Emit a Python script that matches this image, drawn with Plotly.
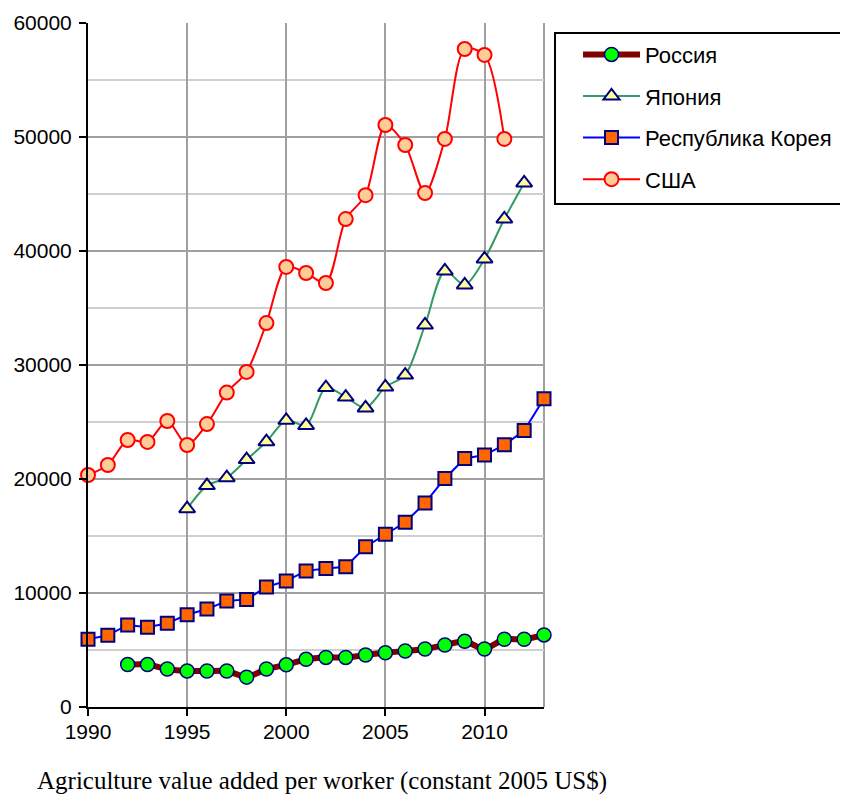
import plotly.graph_objects as go

years = list(range(1990, 2014))

russia = [None, None, 3720, 3720, 3330, 3160, 3160, 3160, 2620, 3330, 3700,
          4180, 4350, 4350, 4560, 4760, 4910, 5090, 5440, 5760, 5090, 5940, 5940, 6320]
japan = [None, None, None, None, None, 17400, 19420, 20120, 21700, 23270, 25150,
         24700, 28020, 27190, 26230, 28070, 29120, 33510, 38250, 37020, 39300, 42810, 45970, None]
korea = [5940, 6290, 7200, 7000, 7350, 8090, 8590, 9290, 9440, 10530, 11060,
         11940, 12150, 12300, 14060, 15160, 16200, 17900, 20050, 21800, 22100, 23000, 24250, 27050]
usa = [20350, 21230, 23420, 23250, 25090, 22980, 24820, 27580, 29390, 33680, 38600,
       38070, 37190, 42800, 44900, 51050, 49300, 45090, 49830, 57720, 57200, 49830, None, None]

names = ["Россия", "Япония", "Республика Корея", "США"]
title_text = "Agriculture value added per worker (constant 2005 US$)"

fig = go.Figure()

fig.add_trace(go.Scatter(
    x=years, y=russia, name=names[0], mode="lines+markers", legendgroup="a",
    cliponaxis=False,
    line=dict(color="#800000", width=6, shape="spline", smoothing=0.6),
    marker=dict(symbol="circle", size=14, color="#00FF00",
                line=dict(color="#000080", width=1.5)),
))
fig.add_trace(go.Scatter(
    x=years, y=japan, name=names[1], mode="lines+markers", legendgroup="b",
    cliponaxis=False,
    line=dict(color="#339966", width=2, shape="spline", smoothing=0.8),
    marker=dict(symbol="triangle-up", size=14, color="#FFFF99",
                line=dict(color="#000080", width=2)),
))
fig.add_trace(go.Scatter(
    x=years, y=korea, name=names[2], mode="lines+markers", legendgroup="c",
    cliponaxis=False,
    line=dict(color="#0000FF", width=2),
    marker=dict(symbol="square", size=13, color="#FF6600",
                line=dict(color="#000080", width=2)),
))
fig.add_trace(go.Scatter(
    x=years, y=usa, name=names[3], mode="lines+markers", legendgroup="d",
    cliponaxis=False,
    line=dict(color="#FF0000", width=2, shape="spline", smoothing=0.8),
    marker=dict(symbol="circle", size=14, color="#FFCC99",
                line=dict(color="#FF0000", width=2)),
))

fig.update_layout(
    width=840, height=792,
    margin=dict(l=80, r=304, t=15, b=93, autoexpand=False),
    plot_bgcolor="white", paper_bgcolor="white",
    font=dict(family="Liberation Sans, Arial, sans-serif", size=21, color="black"),
    showlegend=True,
    legend=dict(
        x=1.0746, y=0.9845, xanchor="left", yanchor="top",
        borderwidth=0, bgcolor="rgba(0,0,0,0)",
        font=dict(size=22), tracegroupgap=10, itemwidth=57,
    ),
    xaxis=dict(
        range=[1990, 2013], tick0=1990, dtick=5, tickformat="d",
        showline=True, linecolor="black", linewidth=2,
        ticks="outside", ticklen=7, tickcolor="black", tickwidth=2,
        showgrid=True, gridcolor="#A0A0A0", gridwidth=2,
        zeroline=False, automargin=False, ticklabelstandoff=-2,
    ),
    yaxis=dict(
        range=[0, 60000], dtick=10000, tickformat="d",
        showline=True, linecolor="black", linewidth=2,
        ticks="outside", ticklen=7, tickcolor="black", tickwidth=2,
        showgrid=True, gridcolor="#A0A0A0", gridwidth=2,
        minor=dict(dtick=5000, showgrid=True, gridcolor="#CFCFCF", gridwidth=2),
        zeroline=False, automargin=False, ticklabelstandoff=3,
    ),
    shapes=[
        dict(type="line", xref="paper", yref="paper", x0=1, x1=1, y0=0, y1=1,
             line=dict(color="#A0A0A0", width=2), layer="below"),
        dict(type="rect", xref="paper", yref="paper",
             x0=1.0241, x1=1.6645, y0=0.7354, y1=0.9854,
             line=dict(color="black", width=2), fillcolor="rgba(0,0,0,0)", layer="below"),
    ],
    annotations=[
        dict(text=title_text, xref="paper", yref="paper",
             x=-0.1162, y=-0.108, xanchor="left", yanchor="middle",
             showarrow=False,
             font=dict(family="Liberation Serif, Times New Roman, serif", size=25, color="black")),
    ],
)

fig.write_html("out.html")
